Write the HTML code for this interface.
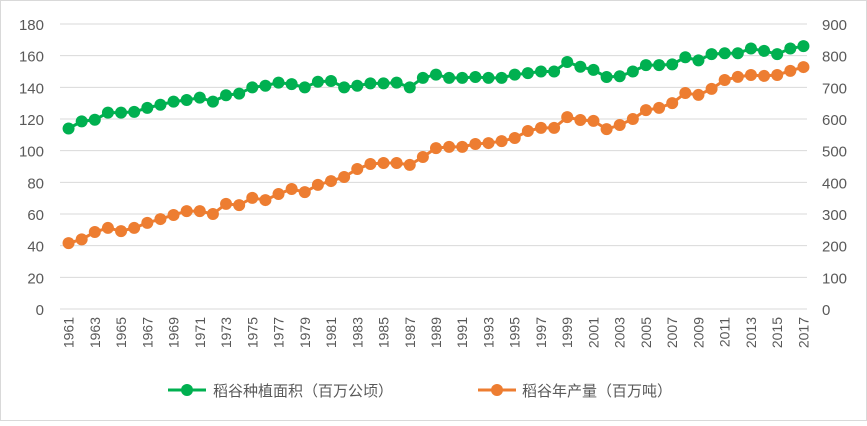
<!DOCTYPE html>
<html><head><meta charset="utf-8"><style>
body{margin:0;background:#fff;}
svg{font-family:"Liberation Sans","Noto Sans CJK SC",sans-serif;}
</style></head><body>
<svg id="c" width="867" height="421" xmlns="http://www.w3.org/2000/svg">
<rect x="0.5" y="0.5" width="866" height="420" fill="#fff" stroke="#d9d9d9"/>
<g id="grid"></g><g id="axes"></g><g id="series"></g>
<g>
<g>
<line x1="168" y1="390" x2="206" y2="390" stroke="#00b050" stroke-width="3"/><circle cx="187" cy="390" r="6" fill="#00b050"/>
<text x="213" y="396" font-size="15" fill="#595959">稻谷种植面积（百万公顷）</text></g>
<g>
<line x1="478" y1="390" x2="516" y2="390" stroke="#ed7d31" stroke-width="3"/><circle cx="497" cy="390" r="6" fill="#ed7d31"/>
<text x="522" y="396" font-size="15" fill="#595959">稻谷年产量（百万吨）</text></g>
</g>
</svg>
<script>
const years=[];for(let y=1961;y<=2017;y++)years.push(y);
const area=[114,118.5,119.5,124,124,124.5,127,129,131,132,133.5,131,135,136,140,141,143,142,140,143.5,144,140,141,142.5,142.5,143,140,146,148,146,146,146.5,146,146,148,149,150,150,156,153,151,146.5,147,150,154,154,154.5,159,157,161,161.5,161.5,164.5,163,161,164.5,166];
const production=[208,220,243,256,246,256,272,284,297,309,309,300,332,328,351,344,363,379,369,392,404,417,442,458,461,461,455,480,508,512,512,521,524,530,540,562,572,572,606,597,594,568,581,600,628,635,650,682,676,695,723,733,739,736,739,752,764];
const leftTicks=[0,20,40,60,80,100,120,140,160,180];
const rightTicks=[0,100,200,300,400,500,600,700,800,900];
const NS="http://www.w3.org/2000/svg";
const X0=62,X1=810,Y0=309,Y1=24;
const bw=(X1-X0)/years.length;
const x=i=>X0+bw*(i+0.5);
const yL=v=>Y0-(v/180)*(Y0-Y1);
const yR=v=>Y0-(v/900)*(Y0-Y1);
function mk(tag,attrs,parent){const e=document.createElementNS(NS,tag);for(const k in attrs)e.setAttribute(k,attrs[k]);parent.appendChild(e);return e;}
const grid=document.getElementById('grid'),axes=document.getElementById('axes'),ser=document.getElementById('series');
leftTicks.forEach((t,i)=>{
 const l=mk('line',{x1:X0-2,x2:X1-3,y1:yL(t),y2:yL(t),stroke:'#d9d9d9','stroke-width':1},grid);
 
 
 const tx=mk('text',{x:44,y:yL(t)+6,'text-anchor':'end','font-size':15,fill:'#595959'},axes);
 tx.textContent=t;
 
 
});
rightTicks.forEach(t=>{
 const tx=mk('text',{x:822,y:yR(t)+6,'font-size':15,fill:'#595959'},axes);
 tx.textContent=t;
 
 
});
years.forEach((yr,i)=>{
 if(i%2)return;
 const tx=mk('text',{x:0,y:0,'font-size':14,fill:'#595959','text-anchor':'end',transform:`translate(${x(i)+5},317) rotate(-90)`},axes);
 tx.textContent=yr;
 
 
});
function series(vals,yf,color,name){
 const p=mk('polyline',{points:vals.map((v,i)=>x(i)+','+yf(v)).join(' '),fill:'none',stroke:color,'stroke-width':3},ser);
 
 
 vals.forEach((v,i)=>{
  const c=mk('circle',{cx:x(i),cy:yf(v),r:6,fill:color},ser);
  
  
 });
}
series(area,yL,'#00b050','area');
series(production,yR,'#ed7d31','production');
</script>
</body></html>
